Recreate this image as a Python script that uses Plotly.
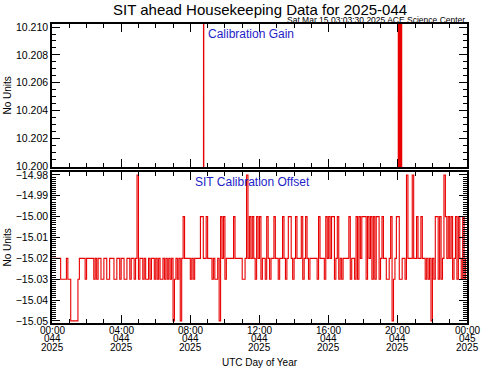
import plotly.graph_objects as go

# ---------------- data ----------------
# Calibration offset, 5-minute samples, one string per UTC hour of day 044
offset_levels = {"A": -14.98, "B": -15.00, "C": -15.02, "D": -15.03, "E": -15.05}
offset_hour_codes = [
    "CCCCCCDDDDCD", "DEEEEEDCCCCD", "CCCCCDCDCCDD", "CCDDCCCDDCCD",
    "CCDDCCDCCDCA", "DCCDCDDCDCCD", "CDCDDCDCDCDC", "EDCDCECBCCCC",
    "DCDCCCCBBCCB", "CCCDCDDCEBCB", "DCCCCCBCCCCC", "DDCACBCBCDBC",
    "BDCCDBCDCCBC", "CDCCBCDCBBCD", "CBCCCBDCBCDC", "CCCCDBCCCDBC",
    "BCBBDCBDCDCC", "CCBDCCDBDBCB", "BBDBCBDBDBBD", "CBCCDDCBEDCB",
    "BDDCCDACCCAC", "CBCCBCCDCDCE", "CDBBDBDCABCB", "CBDCBDBCDBDC",
]
sample_minutes = 5

# Calibration gain (hours, value) - mostly off scale, with short excursions
gain_t = [0.0, 8.765, 8.770, 8.775,
          20.03, 20.035, 20.09, 20.095, 20.10, 20.105, 20.16, 20.165, 20.17, 20.175, 20.215, 20.22,
          24.0]
gain_v = [10.190, 10.190, 10.230, 10.190,
          10.190, 10.230, 10.230, 10.190, 10.190, 10.230, 10.230, 10.190, 10.190, 10.230, 10.230, 10.190,
          10.190]

tick_hours = [0, 4, 8, 12, 16, 20, 24]
tick_time = ["00:00", "04:00", "08:00", "12:00", "16:00", "20:00", "00:00"]
tick_doy = ["044", "044", "044", "044", "044", "044", "045"]
tick_year = ["2025", "2025", "2025", "2025", "2025", "2025", "2025"]

title_text = "SIT ahead Housekeeping Data for 2025-044"
stamp_text = "Sat Mar 15 03:03:30 2025 ACE Science Center"

# ---------------- build series ----------------
codes = "".join(offset_hour_codes)
off_t = [i * sample_minutes / 60.0 for i in range(len(codes))]
off_v = [offset_levels[c] for c in codes]
off_t.append(24.0)
off_v.append(off_v[-1])

RED = "rgb(232,0,0)"
BLUE = "rgb(30,30,200)"
FONT = "Liberation Sans"

fig = go.Figure()
fig.add_trace(go.Scatter(x=gain_t, y=gain_v, mode="lines", xaxis="x2", yaxis="y2",
                         line=dict(color=RED, width=1.3), showlegend=False))
fig.add_trace(go.Scatter(x=off_t, y=off_v, mode="lines", xaxis="x", yaxis="y",
                         line=dict(color=RED, width=1.1, shape="hv"), showlegend=False))

common_x = dict(range=[0, 24], tickvals=tick_hours, showticklabels=False,
                ticks="inside", ticklen=8, tickwidth=1, tickcolor="black",
                showline=True, linecolor="black", linewidth=1.5, mirror="ticks",
                showgrid=False, zeroline=False,
                minor=dict(dtick=1, tick0=0, ticks="inside", ticklen=4, tickcolor="black"))

fig.update_layout(
    width=481, height=370,
    margin=dict(l=52, r=12, t=24, b=47),
    paper_bgcolor="white", plot_bgcolor="white",
    font=dict(family=FONT, size=10.5, color="black"),
    xaxis=dict(anchor="y", domain=[0, 1], **common_x),
    xaxis2=dict(anchor="y2", domain=[0, 1], **common_x),
    yaxis=dict(domain=[0, 0.505], range=[-15.051, -14.9786], anchor="x",
               tickvals=[-15.05, -15.04, -15.03, -15.02, -15.01, -15.00, -14.99, -14.98],
               tickformat=".2f", ticks="inside", ticklen=8, tickcolor="black",
               showline=True, linecolor="black", linewidth=1.5, mirror="ticks",
               showgrid=False, zeroline=False, tickfont=dict(size=10.5),
               minor=dict(dtick=0.001, tick0=-15.05, ticks="inside", ticklen=4, tickcolor="black")),
    yaxis2=dict(domain=[0.5217, 1], range=[10.19993, 10.21022], anchor="x2",
                tickvals=[10.200, 10.202, 10.204, 10.206, 10.208, 10.210],
                tickformat=".3f", ticks="inside", ticklen=8, tickcolor="black",
                showline=True, linecolor="black", linewidth=1.5, mirror="ticks",
                showgrid=False, zeroline=False, tickfont=dict(size=10.5),
                minor=dict(dtick=0.0005, tick0=10.2, ticks="inside", ticklen=4, tickcolor="black")),
)

ann = []
ann.append(dict(text=title_text, x=0.5, y=1.0, xref="paper", yref="paper",
                yshift=15, xanchor="center", yanchor="middle", showarrow=False,
                font=dict(size=15, family=FONT, color="black")))
ann.append(dict(text=stamp_text, x=1.0, y=1.0, xref="paper", yref="paper",
                yshift=4, xanchor="right", yanchor="middle", showarrow=False,
                font=dict(size=8.5, family=FONT, color="black")))
ann.append(dict(text="Calibration Gain", x=8.92, y=1.0, xref="x2", yref="paper",
                yshift=-10, xanchor="left", yanchor="middle", showarrow=False,
                font=dict(size=12, family=FONT, color=BLUE)))
ann.append(dict(text="SIT Calibration Offset", x=0.339, y=0.505, xref="paper", yref="paper",
                yshift=-10, xanchor="left", yanchor="middle", showarrow=False,
                font=dict(size=12, family=FONT, color=BLUE)))
for yc in [(0.5217 + 1) / 2, 0.505 / 2]:
    ann.append(dict(text="No Units", x=0, y=yc, xref="paper", yref="paper",
                    xshift=-44, textangle=-90, xanchor="center", yanchor="middle",
                    showarrow=False, font=dict(size=10, family=FONT, color="black")))
for h, a, b, c in zip(tick_hours, tick_time, tick_doy, tick_year):
    for txt, sh in ((a, -7), (b, -15.5), (c, -24)):
        ann.append(dict(text=txt, x=h, y=0, xref="x", yref="paper", yshift=sh,
                        xanchor="center", yanchor="middle", showarrow=False,
                        font=dict(size=10, family=FONT, color="black")))
ann.append(dict(text="UTC Day of Year", x=0.5, y=0, xref="paper", yref="paper",
                yshift=-39, xanchor="center", yanchor="middle", showarrow=False,
                font=dict(size=10, family=FONT, color="black")))
fig.update_layout(annotations=ann)

fig.write_html("out.html", config={"displayModeBar": False},
               post_script="document.body.style.margin='0';document.body.style.padding='0';")
